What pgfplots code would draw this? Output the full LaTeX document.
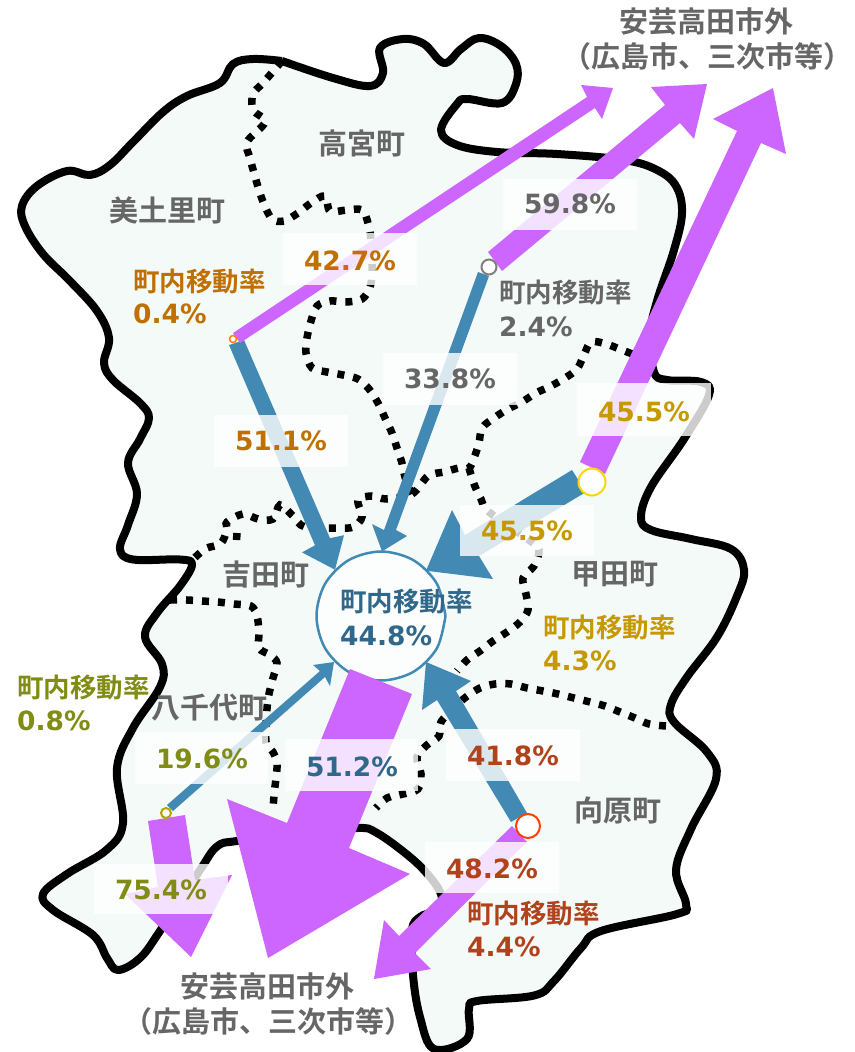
\documentclass[border=0pt]{standalone}
\usepackage{fontspec}
\usepackage{pgfplots}
\pgfplotsset{compat=1.18}
\setmainfont{DejaVu Sans}
\newfontfamily\cjk{Noto Sans CJK JP}[BoldFont=* Bold]
\definecolor{landc}{HTML}{F4FAF8}
\definecolor{arrP}{HTML}{CC66FF}
\definecolor{arrB}{HTML}{4289B3}
\definecolor{tGrey}{HTML}{666666}
\definecolor{tOrange}{HTML}{BF7000}
\definecolor{tGold}{HTML}{C69900}
\definecolor{tOlive}{HTML}{808C14}
\definecolor{tRust}{HTML}{B0421C}
\definecolor{tTeal}{HTML}{30688C}
\newcommand{\JP}[1]{{\fontsize{26.5}{30}\selectfont\cjk\bfseries #1}}
\newcommand{\TN}[1]{{\fontsize{29}{32}\selectfont\cjk\bfseries #1}}
\newcommand{\NM}[1]{{\fontsize{26.5}{30}\selectfont\bfseries #1}}
\newcommand{\pct}[4]{\node[text=#4,anchor=center,inner sep=0pt] at (axis cs:#1,#2) {\NM{#3}};}
\newcommand{\rate}[6]{%
  \node[text=#6,anchor=west,inner sep=0pt] at (axis cs:#1,#2) {\JP{町内移動率}};
  \node[text=#6,anchor=west,inner sep=0pt] at (axis cs:#1,#3) {\NM{#5}};}
\newcommand{\town}[3]{\node[text=tGrey,anchor=center,inner sep=0pt] at (axis cs:#1,#2) {\TN{#3}};}
\newcommand{\whitebox}[4]{\addplot[fill=white,fill opacity=0.8,draw=none] coordinates {(#1,#2) (#3,#2) (#3,#4) (#1,#4)};}
\begin{document}
\begin{tikzpicture}
\useasboundingbox (0,0) rectangle (854pt,1052pt);
\begin{axis}[
  anchor=south west, at={(0,0)},
  scale only axis, width=854pt, height=1052pt,
  xmin=0, xmax=854, ymin=0, ymax=1052, y dir=reverse,
  axis lines=none, clip=true,
  dots/.style={draw=black,line width=7.5pt,dash pattern=on 7pt off 9pt,smooth,tension=0.55},
]
% map outline
\addplot[fill=landc,draw=black,line width=8pt,smooth,tension=0.62,line join=round] coordinates {
(282,61)(253,59)(233,64)(220,83)(187,96)(163,112)(133,142)(110,165)(90,175)(67,171)(37,186)(22,206)(25,226)(43,254)(70,281)(97,311)(109,338)(104,363)(113,380)(140,403)(149,418)(140,439)(128,463)(137,494)(128,525)(120,549)(133,559.5)(180,559.5)(192,564.6)(180,586)(157,613)(145,637)(162,664)(160,687)(133,728)(117,768)(123,823)(107,849.5)(67,874)(43,894)(53,910)(93,935)(107,958)(118,970)(140,958)(160,931)(200,870)(217,846.5)(237,841)(300,834)(357,828)(377,833)(410,857)(430,877)(441,894)(440,905)(432,912)(420,917)(412,930)(413,975)(420,1017)(434,1049)(467,1039)(469,1009)(477,1001)(534,995.5)(554,981)(581,948)(601,931)(677,914)(686,904)(676,870)(691,829)(716,779)(707,752)(674,722)(671,704.5)(687,677)(717,637)(737,596)(744,570)(731,549)(691,539)(651,530)(641,517)(651,487)(684,439)(709,395)(701,382)(667,380)(654,372)(650,335)(657,301)(674,250)(682,213)(676,186)(657,170)(624,160)(557,154)(497,152)(457,145)(441,130)(457,104)(467,99)(502,103)(516,84)(516,64)(501,46)(479,38)(461,49)(444,63)(424,44)(403,39)(380,48)(383,73)(370,86)(333,78)(282,61)};
% dotted boundaries
\addplot[dots] coordinates {(282,61)(263,83)(253,94)(253,110)(265,122)(247,142)(250,158)(254,173)(259,190)(264,204)(272,219)(284,221)(298,213)(311,203)(325,196)(330,211)(347,210)(362,210)(368,223)(371,240)(372,271)(370,287)(362,299)(346,302)(330,301)(317,306)(311,321)(307,338)(306,353)(312,368)(327,372)(343,375)(358,379)(369,389)(378,403)(385,418)(392,433)(397,448)(402,463)(405,477)(412,494)};
\addplot[dots] coordinates {(195,557.5)(206,548.4)(221,543.3)(227,529)(227,522)(243,514)(258,519)(273,519)(280,505)(293,516)(305,527)(338,528)(353,527)(362,517)(358,500)(372,496)(387,499)(412,494)(428,476)(444,472)(459,468)(469,468)(474,458)(479,443)(482,428)(494,418)(508,409)(522,402)(536,393)(551,386)(565,378)(577,369)(584,355)(591,342)(606,344)(622,350)(640,357)};
\addplot[dots] coordinates {(237,533)(236,548)};
\addplot[dots] coordinates {(469,468)(474,484)(481,499)(489,512)(529,540)(539,550)(534,566)(523,578)(526,594)(528,610)(520,622)(507,632)(493,641)(480,651)(467,660)(457,671)};
\addplot[dots] coordinates {(170,600)(187,600)(202,601)(218,602)(234,604)(251,606)(257,616)(259,632)(259,648)(270,655)(277,663)(273,678)(269,694)(267,709)(266,742)(273,752)(277,763)(276,778)(274,795)(273,811)};
\addplot[dots] coordinates {(666,726)(649,724)(635,718)(620,712)(605,706)(590,702)(574,698)(558,694)(543,691)(527,688)(511,684)(495,684)(480,688)(466,697)(455,707)(441,722)(439,736)(427,745)(417,757)(421,774)(418,789)(403,794)(387,798)(376,808)};
% centre circle
\addplot[fill=white,fill opacity=0.8,draw=arrB,draw opacity=1,line width=2.5pt,smooth,tension=0.55] coordinates {(445.5,616)(436.9,583.75)(413.25,560.1)(381,551.5)(348.75,560.1)(325.1,583.75)(316.5,616)(325.1,648.25)(348.75,671.9)(381,680.5)(413.25,671.9)(436.9,648.25)(445.5,616)};
% arrows
\addplot[fill=arrB,draw=none] coordinates {(229,345)(315,545.3)(302,552.4)(335,569.7)(344,535.2)(330,538.2)(244,340)};
\addplot[fill=arrB,draw=none] coordinates {(478,272)(384,530)(372,524)(382,551.4)(407,536)(396,530)(489,276)};
\addplot[fill=arrB,draw=none] coordinates {(572,470)(465,535)(452,510)(426,570.7)(493,579)(479,556)(586,492)};
\addplot[fill=arrB,draw=none] coordinates {(167,805)(320,671)(313,665)(334,662)(330,686)(325,677)(173,811)};
\addplot[fill=arrB,draw=none] coordinates {(511,822)(437,700)(422,710)(426,662)(471,681)(456,691)(527,813)};
\addplot[fill=arrP,draw=none] coordinates {(233,333)(587,97)(581,85)(613,88)(602,119)(595,108)(240,343)};
\addplot[fill=arrP,draw=none] coordinates {(488,252)(665,105)(651,87)(707,84)(694,139)(680,123)(502,271)};
\addplot[fill=arrP,draw=none] coordinates {(580,462)(737,131)(713,119)(773,88)(786,154)(761,143)(605,474)};
\addplot[fill=arrP,draw=none] coordinates {(350,669)(287,823)(227,799)(268,958)(410,874)(349,848)(412,694)};
\addplot[fill=arrP,draw=none] coordinates {(148,821)(158,887)(125,894)(191,957)(232,875)(195,880)(185,815)};
\addplot[fill=arrP,draw=none] coordinates {(512,826)(399,936)(384,920)(374,979)(431,969)(415,953)(527,842)};
% origin circles
\addplot[only marks,mark=*,mark size=3.5pt,mark options={draw=orange,fill=white,line width=1.5pt}] coordinates {(233,339)};
\addplot[only marks,mark=*,mark size=7.5pt,mark options={draw=gray,fill=white,line width=2pt}] coordinates {(489,267)};
\addplot[only marks,mark=*,mark size=13.5pt,mark options={draw=yellow!75!orange,fill=white,line width=2pt}] coordinates {(592,482)};
\addplot[only marks,mark=*,mark size=12pt,mark options={draw=orange!50!red,fill=white,line width=2pt}] coordinates {(528,826)};
\addplot[only marks,mark=*,mark size=5pt,mark options={draw=olive!70!yellow,fill=white,line width=2pt}] coordinates {(166,813)};
% label boxes
\whitebox{283}{233}{417}{285}
\whitebox{214}{415}{348}{467}
\whitebox{383}{353}{517}{405}
\whitebox{503}{178.5}{637}{230}
\whitebox{577}{383}{711}{436}
\whitebox{460}{505}{594}{556}
\whitebox{135}{732}{268}{784}
\whitebox{285}{739}{418}{791}
\whitebox{446}{729}{580}{781}
\whitebox{425}{842}{559}{893}
\whitebox{94}{864}{228}{914}
% text
\pct{350}{261}{42.7\%}{tOrange}
\pct{281}{441}{51.1\%}{tOrange}
\pct{450}{379}{33.8\%}{tGrey}
\pct{570}{204}{59.8\%}{tGrey}
\pct{644}{412}{45.5\%}{tGold}
\pct{527}{531}{45.5\%}{tGold}
\pct{202}{759}{19.6\%}{tOlive}
\pct{161}{890}{75.4\%}{tOlive}
\pct{352}{767}{51.2\%}{tTeal}
\pct{513}{756}{41.8\%}{tRust}
\pct{492}{869}{48.2\%}{tRust}
\rate{133}{282}{314}{}{0.4\%}{tOrange}
\rate{499}{293}{326.5}{}{2.4\%}{tGrey}
\rate{543}{628}{661}{}{4.3\%}{tGold}
\rate{17}{688}{721}{}{0.8\%}{tOlive}
\rate{467}{914}{947}{}{4.4\%}{tRust}
\rate{340}{602}{636}{}{44.8\%}{tTeal}
\town{362}{143}{高宮町}
\town{167}{210}{美土里町}
\town{266}{575}{吉田町}
\town{615}{574}{甲田町}
\town{209}{708}{八千代町}
\town{618}{810}{向原町}
\town{706}{22}{安芸高田市外}
\town{707}{56}{（広島市、三次市等）}
\town{267}{987}{安芸高田市外}
\town{268}{1021}{（広島市、三次市等）}
\end{axis}
\end{tikzpicture}
\end{document}
